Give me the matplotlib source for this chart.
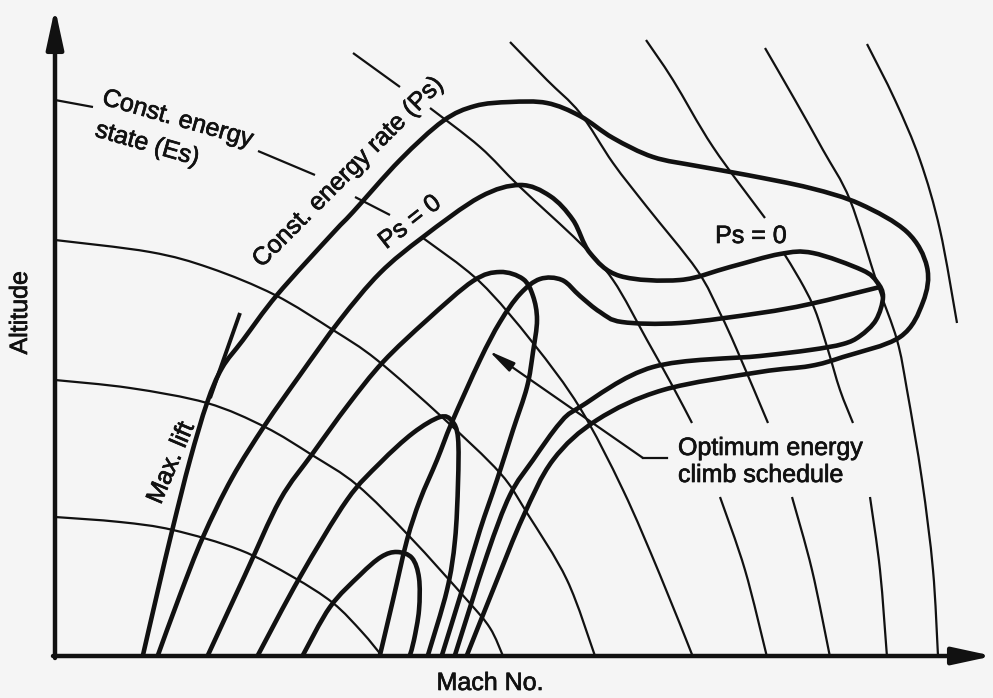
### Energy-state diagram: constant Es / constant Ps contours ###
import numpy as np
import matplotlib
matplotlib.use('Agg')
import matplotlib.pyplot as plt
import matplotlib.patheffects as pe
from matplotlib.path import Path
from matplotlib.patches import PathPatch

# sketch space: pixels of the original drawing, y grows downward
# constant energy-rate (Ps) contours, outer to inner
PS_OUTER = [(143, 655), (158, 590), (173, 527), (190, 460), (207, 403), (222, 368),
            (243, 340), (277, 295), (333, 233), (353, 212), (400, 160), (443, 121),
            (475, 106), (510, 102), (547, 103), (580, 116), (613, 138), (653, 157),
            (697, 166), (747, 175), (810, 188), (860, 204), (907, 232), (927, 267),
            (923, 302), (900, 337), (843, 357), (810, 366), (760, 372), (663, 390),
            (597, 420), (553, 460), (523, 517), (495, 585), (467, 655)]
PS_ZERO = [(158, 655), (180, 595), (203, 537), (232, 478), (265, 425), (300, 375),
           (340, 320), (380, 273), (423, 237), (480, 197), (520, 185), (550, 196),
           (573, 220), (590, 253), (620, 276), (680, 280), (730, 267), (780, 254),
           (813, 253), (862, 270), (877, 282), (883, 297), (876, 320), (860, 336),
           (843, 344), (810, 350), (760, 356), (653, 367), (580, 407), (560, 423),
           (533, 460), (510, 495), (487, 555), (455, 655)]
PS_3 = [(208, 655), (245, 575), (280, 500), (313, 453), (348, 405), (383, 362),
        (427, 320), (473, 281), (500, 272), (523, 279), (533, 296), (537, 320),
        (533, 352), (527, 387), (513, 430), (497, 480), (480, 530), (463, 587),
        (442, 655)]
PS_2 = [(258, 655), (300, 577), (347, 500), (380, 463), (413, 433), (440, 417),
        (452, 421), (458, 438), (458, 483), (455, 540), (447, 590), (428, 655)]
PS_1 = [(303, 655), (330, 607), (360, 575), (381, 557), (397, 552), (412, 558),
        (419, 578), (419, 610), (414, 640), (410, 655)]
CLIMB = [(380, 655), (393, 600), (407, 540), (420, 500), (437, 460), (452, 422),
         (480, 360), (500, 322), (520, 294), (540, 279), (562, 280), (580, 296),
         (600, 312), (622, 322), (680, 323), (760, 313), (810, 304), (880, 287)]
MAX_LIFT = [(240, 313), (210, 398)]

# constant energy-state (Es) curves, broken where labels sit
ES_1 = [[(55, 517), (120, 522), (173, 530), (240, 550), (293, 577), (333, 603),
         (362, 632), (382, 656)]]
ES_2 = [[(55, 380), (130, 388), (207, 403), (265, 427), (312, 455), (357, 485),
         (410, 537), (467, 600), (490, 628), (503, 656)]]
ES_3 = [[(55, 240), (150, 252), (210, 268), (275, 295), (333, 330), (377, 360),
         (443, 418), (500, 473), (527, 513), (567, 580), (595, 656)]]
ES_4 = [[(55, 100), (93, 107)], [(258, 151), (315, 175)], [(355, 197), (390, 215)],
        [(423, 238), (480, 282), (533, 343), (580, 408), (623, 490), (660, 575),
         (693, 657)]]
ES_5 = [[(353, 53), (400, 87)],
        [(430, 108), (480, 147), (520, 187), (580, 243), (613, 280), (647, 340),
         (672, 385), (692, 423)],
        [(720, 497), (745, 570), (767, 657)]]
ES_6 = [[(510, 42), (547, 80), (580, 113), (613, 163), (647, 207), (697, 270),
         (720, 313), (737, 350), (768, 423)],
        [(792, 497), (812, 570), (830, 657)]]
ES_7 = [[(646, 40), (673, 80), (713, 147), (765, 218)],
        [(783, 252), (800, 280), (815, 310), (828, 350), (840, 390), (853, 423)],
        [(870, 497), (880, 570), (887, 657)]]
ES_8 = [[(765, 48), (795, 100), (823, 150), (850, 200), (877, 283), (897, 340),
         (907, 390), (922, 480), (933, 570), (938, 656)]]
ES_9 = [[(867, 44), (895, 100), (920, 160), (940, 230), (957, 323)]]

INK = '#111111'
plt.rcParams['font.family'] = ['Liberation Sans', 'DejaVu Sans']
FS = 18


def smooth_path(pts):
    # Catmull-Rom control points handed to matplotlib as cubic Beziers
    p = np.asarray(pts, float)
    n = len(p)
    verts = [p[0]]
    codes = [Path.MOVETO]
    for i in range(n - 1):
        p0 = p[i - 1] if i > 0 else p[i]
        p3 = p[i + 2] if i + 2 < n else p[i + 1]
        verts += [p[i] + (p[i + 1] - p0) / 6.0, p[i + 1] - (p3 - p[i]) / 6.0, p[i + 1]]
        codes += [Path.CURVE4] * 3
    return Path(verts, codes)


def draw(ax, pts, lw):
    ax.add_patch(PathPatch(smooth_path(pts), fill=False, ec=INK, lw=lw,
                           capstyle='butt', joinstyle='round'))


fig = plt.figure(figsize=(9.93, 6.98), dpi=100)
fig.patch.set_facecolor('#f5f5f5')
ax = fig.add_axes([0, 0, 1, 1])
ax.set_xlim(0, 993)
ax.set_ylim(698, 0)
ax.axis('off')

for curve in [ES_1, ES_2, ES_3, ES_4, ES_5, ES_6, ES_7, ES_8, ES_9]:
    for piece in curve:
        draw(ax, piece, 1.6)

for curve in [PS_OUTER, PS_ZERO, PS_3, PS_2, PS_1, CLIMB]:
    draw(ax, curve, 3.3)
draw(ax, MAX_LIFT, 2.8)

# axes with arrow heads
ax.annotate('', xy=(55, 8), xytext=(55, 658),
            arrowprops=dict(arrowstyle='-|>,head_length=1.2,head_width=0.26',
                            lw=3.2, color=INK, shrinkA=0, shrinkB=0, mutation_scale=20))
ax.annotate('', xy=(993, 656), xytext=(53, 656),
            arrowprops=dict(arrowstyle='-|>,head_length=1.2,head_width=0.26',
                            lw=3.2, color=INK, shrinkA=0, shrinkB=0, mutation_scale=20))

# leader to the climb schedule
ax.plot([643, 667], [458, 458], color=INK, lw=1.6)
ax.annotate('', xy=(489, 351), xytext=(643, 458),
            arrowprops=dict(arrowstyle='-|>,head_length=0.8,head_width=0.16',
                            lw=1.6, color=INK, shrinkA=0, shrinkB=0, mutation_scale=20))

bold = [pe.withStroke(linewidth=0.5, foreground=INK)]
txt = dict(color=INK, fontsize=FS, rotation_mode='anchor', path_effects=bold)
ax.text(101, 104, 'Const. energy', ha='left', va='baseline', rotation=-16, **txt)
ax.text(94, 136, 'state (Es)', ha='left', va='baseline', rotation=-16, **txt)
ax.text(348, 172, 'Const. energy rate (Ps)', ha='center', va='center', rotation=45, **txt)
ax.text(410, 222, 'Ps = 0', ha='center', va='center', rotation=38, **txt)
ax.text(751, 236, 'Ps = 0', ha='center', va='center', **txt)
ax.text(171, 463, 'Max. lift', ha='center', va='center', rotation=67, **txt)
ax.text(678, 455, 'Optimum energy', ha='left', va='baseline', **txt)
ax.text(678, 482, 'climb schedule', ha='left', va='baseline', **txt)
ax.text(20, 313, 'Altitude', ha='center', va='center', rotation=90, **txt)
ax.text(490, 683, 'Mach No.', ha='center', va='center', **txt)

fig.savefig('out.png', dpi=100, facecolor=fig.get_facecolor())
